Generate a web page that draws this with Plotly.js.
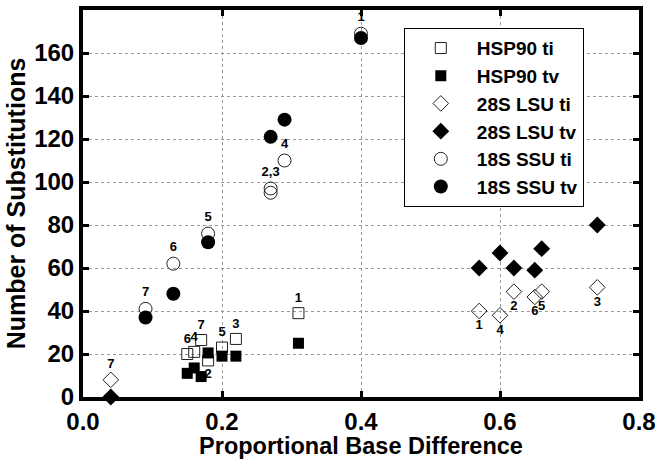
<!DOCTYPE html>
<html>
<head>
<meta charset="utf-8">
<script src="https://cdn.plot.ly/plotly-3.0.1.min.js"></script>
<style>html,body{margin:0;padding:0;background:#fff}#chart{width:664px;height:459px}</style>
</head>
<body>
<div id="chart"></div>
<script>
// HSP90 transitions (ti) and transversions (tv)
var hspTiX = [0.31, 0.18, 0.22, 0.16, 0.20, 0.15, 0.17];
var hspTiY = [39, 17, 27, 21, 23, 20, 26.5];
var hspTiLabels = ['1', '2', '3', '4', '5', '6', '7'];
var hspTvX = [0.15, 0.16, 0.17, 0.18, 0.20, 0.22, 0.31];
var hspTvY = [11, 13.5, 9.5, 20.5, 19, 19, 25];

// 28S LSU
var lsuTiX = [0.57, 0.62, 0.74, 0.60, 0.66, 0.65, 0.04];
var lsuTiY = [40, 49, 51, 38, 49, 46.5, 8];
var lsuTiLabels = ['1', '2', '3', '4', '5', '6', '7'];
var lsuTvX = [0.57, 0.60, 0.62, 0.65, 0.66, 0.74, 0.04];
var lsuTvY = [60, 67, 60, 59, 69, 80, 0];

// 18S SSU
var ssuTiX = [0.40, 0.27, 0.27, 0.29, 0.18, 0.13, 0.09];
var ssuTiY = [169, 97, 95, 110, 76, 62, 41];
var ssuTiLabels = ['1', '2,3', '', '4', '5', '6', '7'];
var ssuTvX = [0.40, 0.27, 0.29, 0.18, 0.13, 0.09];
var ssuTvY = [167, 121, 129, 72, 48, 37];

var xTicks = [0, 0.2, 0.4, 0.6, 0.8];
var yTicks = [0, 20, 40, 60, 80, 100, 120, 140, 160];

var FONT = 'Arial, "Liberation Sans", Helvetica, sans-serif';
var lblFont = {family: FONT, size: 13, color: '#000', weight: 'bold'};
var openLine = {color: '#222', width: 1};

var traces = [
  {x: hspTiX, y: hspTiY, name: 'HSP90 ti', mode: 'markers+text', text: hspTiLabels,
   textposition: ['top center', 'bottom center', 'top center', 'top center', 'top center', 'top center', 'top center'],
   textfont: lblFont, cliponaxis: false,
   marker: {symbol: 'square-open', size: 11, color: '#222', line: openLine}},
  {x: hspTvX, y: hspTvY, name: 'HSP90 tv', mode: 'markers', cliponaxis: false,
   marker: {symbol: 'square', size: 11, color: '#000'}},
  {x: lsuTiX, y: lsuTiY, name: '28S LSU ti', mode: 'markers+text', text: lsuTiLabels,
   textposition: ['bottom center', 'bottom center', 'bottom center', 'bottom center', 'bottom center', 'bottom center', 'top center'],
   textfont: lblFont, cliponaxis: false,
   marker: {symbol: 'diamond-open', size: 12, color: '#222', line: openLine}},
  {x: lsuTvX, y: lsuTvY, name: '28S LSU tv', mode: 'markers', cliponaxis: false,
   marker: {symbol: 'diamond', size: 13, color: '#000'}},
  {x: ssuTiX, y: ssuTiY, name: '18S SSU ti', mode: 'markers+text', text: ssuTiLabels,
   textposition: 'top center', textfont: lblFont, cliponaxis: false,
   marker: {symbol: 'circle-open', size: 13, color: '#222', line: openLine}},
  {x: ssuTvX, y: ssuTvY, name: '18S SSU tv', mode: 'markers', cliponaxis: false,
   marker: {symbol: 'circle', size: 14, color: '#000'}}
];
traces.forEach(function (t) { t.type = 'scatter'; });

var axisCommon = {
  showline: true, linecolor: '#000', linewidth: 4, mirror: 'ticks',
  ticks: 'inside', ticklen: 6, tickwidth: 3, tickcolor: '#000',
  showgrid: true, gridcolor: '#999', gridwidth: 1, griddash: 'dot',
  zeroline: false,
  tickfont: {family: FONT, size: 24, color: '#000', weight: 'bold'}
};

var layout = {
  width: 664, height: 459,
  margin: {l: 83, r: 25, t: 10, b: 62},
  paper_bgcolor: '#fff', plot_bgcolor: '#fff',
  showlegend: true,
  legend: {
    x: 0.577, y: 0.953, xanchor: 'left', yanchor: 'top',
    bgcolor: '#fff', bordercolor: '#000', borderwidth: 1,
    font: {family: FONT, size: 19, color: '#000', weight: 'bold'},
    itemwidth: 62, tracegroupgap: 0
  },
  xaxis: Object.assign({}, axisCommon, {
    range: [0, 0.8], tickvals: xTicks, tickformat: '.1f',
    title: {text: 'Proportional Base Difference', standoff: 4,
            font: {family: FONT, size: 23.5, color: '#000', weight: 'bold'}}
  }),
  yaxis: Object.assign({}, axisCommon, {
    range: [0, 180], tickvals: yTicks,
    title: {text: 'Number of Substitutions', standoff: 2,
            font: {family: FONT, size: 25, color: '#000', weight: 'bold'}}
  })
};

Plotly.newPlot('chart', traces, layout, {displayModeBar: false, staticPlot: true});
</script>
</body>
</html>
